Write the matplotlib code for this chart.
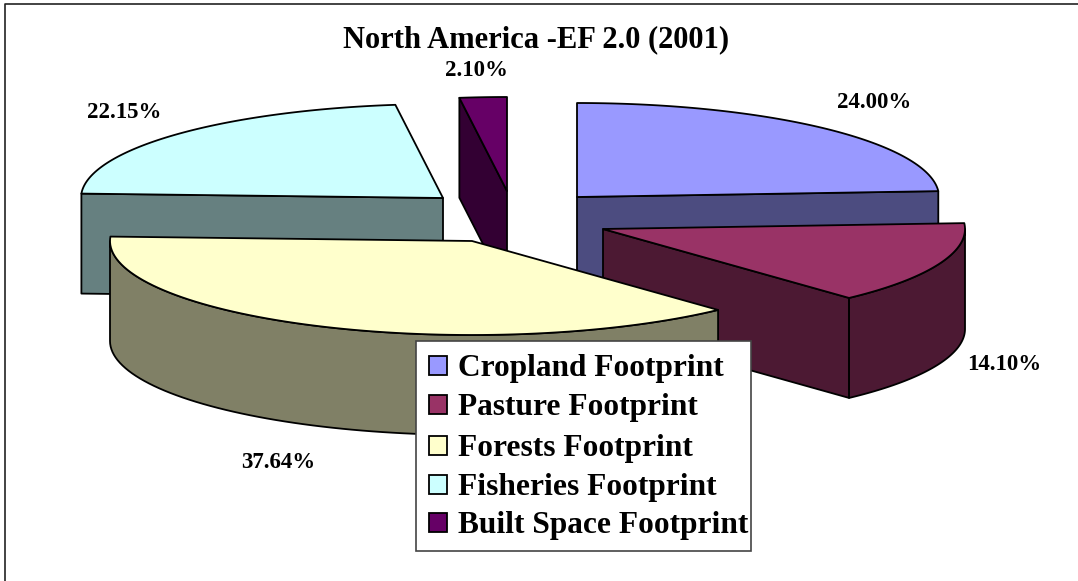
import numpy as np
import matplotlib
matplotlib.use("Agg")
import matplotlib.pyplot as plt
from matplotlib.patches import Polygon, Rectangle

title = "North America -EF 2.0 (2001)"
categories = ["Cropland Footprint", "Pasture Footprint", "Forests Footprint",
			  "Fisheries Footprint", "Built Space Footprint"]
values = [24.00, 14.10, 37.64, 22.15, 2.10]

colors = ["#9999FF", "#993366", "#FFFFCC", "#CCFFFF", "#660066"]
side_colors = ["#4C4C80", "#4C1933", "#808066", "#668080", "#330033"]

# layout, all in image pixels
apexes = [(577, 197), (603, 229), (472, 241), (443, 198), (507, 191)]
label_pos = [(874, 103), (1004, 365), (278, 462), (124, 112), (476, 71)]
legend_rows = [376, 415, 456, 495, 533]
rx, ry = 362, 94
depth = 100
draw_order = [4, 0, 3, 1, 2]

plt.rcParams["font.family"] = ["Liberation Serif", "DejaVu Serif"]
plt.rcParams["font.weight"] = "bold"


def rim(apex, a0, a1, n=80):
	th = np.radians(np.linspace(a0, a1, n))
	return np.column_stack([apex[0] + rx * np.cos(th), apex[1] - ry * np.sin(th)])


def draw_face(ax, pts, color):
	ax.add_patch(Polygon(pts, closed=True, facecolor=color, edgecolor="black",
						 linewidth=1.3, joinstyle="round"))


def draw_slice(ax, apex, a0, a1, color, side):
	apex = np.array(apex, dtype=float)
	down = np.array([0, depth])

	# cut faces, only the ones that turn towards the viewer
	for a, visible in [(a0, np.cos(np.radians(a0)) < 0), (a1, np.cos(np.radians(a1)) > 0)]:
		if visible:
			p = rim(apex, a, a, 1)[0]
			draw_face(ax, [apex, p, p + down, apex + down], side)

	# outer wall, front half of the ellipse
	lo, hi = max(a1, -180), min(a0, 0)
	if hi > lo:
		edge = rim(apex, hi, lo)
		draw_face(ax, np.vstack([edge, edge[::-1] + down]), side)

	draw_face(ax, np.vstack([apex, rim(apex, a0, a1)]), color)


fig = plt.figure(figsize=(10.78, 5.81), dpi=100)
ax = fig.add_axes([0, 0, 1, 1])
ax.set_xlim(0, 1078)
ax.set_ylim(581, 0)
ax.axis("off")

# chart area border
ax.plot([5, 5, 1078], [581, 4, 4], color="#222222", linewidth=1.2)

ends = 90 - np.cumsum(values) / np.sum(values) * 360
starts = np.concatenate([[90], ends[:-1]])
for i in draw_order:
	draw_slice(ax, apexes[i], starts[i], ends[i], colors[i], side_colors[i])

for v, (x, y) in zip(values, label_pos):
	ax.text(x, y, f"{v:.2f}%", ha="center", va="center", fontsize=16.5)

ax.text(536, 40, title, ha="center", va="center", fontsize=22)

# legend box is narrower on the right than a normal legend allows, so drawn by hand
ax.add_patch(Rectangle((416, 341), 335, 210, facecolor="white", edgecolor="#444444",
					   linewidth=1.2, zorder=5))
for name, c, y in zip(categories, colors, legend_rows):
	ax.add_patch(Rectangle((429, y - 20), 18, 19, facecolor=c, edgecolor="black",
						   linewidth=1.3, zorder=6))
	ax.text(458, y, name, ha="left", va="baseline", fontsize=22.6, zorder=6)

fig.savefig("out.png", dpi=100)
